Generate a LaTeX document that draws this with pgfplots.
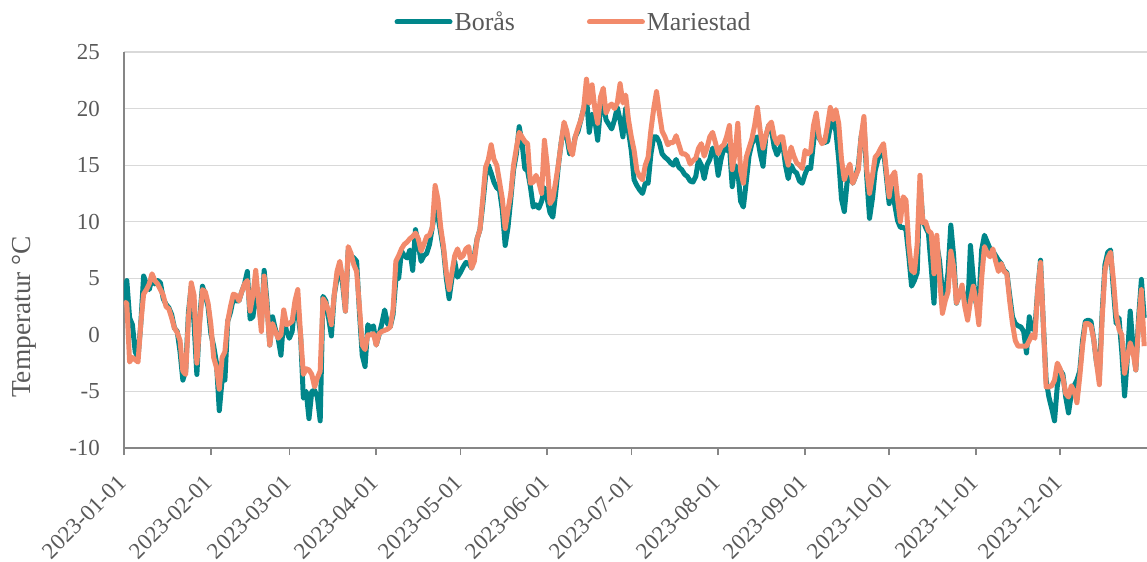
\documentclass[border=0pt]{standalone}
\usepackage{fontspec}
\setmainfont{Liberation Serif}
\usepackage{pgfplots}
\usepackage{pgfplotstable}
\pgfplotsset{compat=1.18}
\definecolor{boras}{HTML}{00868A}
\definecolor{mari}{HTML}{F28A6B}
\definecolor{txt}{HTML}{595959}
\definecolor{axc}{HTML}{868686}
\definecolor{gridc}{HTML}{D9D9D9}

\pgfplotstableread{
d b m
0 3.0 2.9
1 4.8 2.8
2 1.5 -2.4
3 0.9 -2.0
4 -1.5 -2.2
5 -2.0 -2.4
6 1.0 1.0
7 5.2 3.6
8 4.5 4.0
9 4.0 4.5
10 5.0 5.4
11 4.5 4.8
12 4.8 4.5
13 4.6 4.0
14 3.2 3.5
15 2.7 2.5
16 2.4 2.3
17 1.8 1.5
18 0.6 0.6
19 0.3 0.2
20 -1.5 -0.5
21 -4.0 -3.2
22 -3.2 -3.5
23 2.0 1.5
24 4.3 4.6
25 1.0 3.5
26 -3.5 -2.5
27 1.5 1.0
28 4.3 4.0
29 3.5 3.8
30 2.5 2.8
31 0.1 0.9
32 -1.0 -2.0
33 -2.5 -2.9
34 -6.7 -4.8
35 -4.0 -2.0
36 -4.0 -1.5
37 1.2 1.2
38 2.0 2.5
39 3.2 3.6
40 3.0 3.5
41 3.0 3.0
42 3.8 3.8
43 4.5 4.5
44 5.6 4.8
45 1.4 2.1
46 1.6 3.5
47 3.5 5.7
48 3.0 3.0
49 0.9 0.3
50 5.7 5.2
51 3.0 2.5
52 -0.9 -0.9
53 1.6 1.0
54 0.5 0.3
55 -0.3 -0.3
56 -1.8 0.0
57 1.5 2.2
58 0.3 0.9
59 -0.3 1.0
60 0.3 1.2
61 2.8 3.0
62 2.0 4.0
63 0.0 0.0
64 -5.6 -3.5
65 -5.0 -3.0
66 -7.4 -3.1
67 -5.0 -3.5
68 -4.9 -4.6
69 -5.5 -3.8
70 -7.6 -3.2
71 3.4 3.2
72 3.0 2.8
73 1.5 2.1
74 -0.1 0.9
75 3.5 3.5
76 5.0 5.6
77 6.0 6.5
78 4.5 5.0
79 2.1 2.1
80 7.5 7.8
81 7.0 7.2
82 6.8 6.2
83 6.5 5.6
84 2.0 2.5
85 -1.8 -0.9
86 -2.8 -1.3
87 0.9 0.0
88 0.5 0.0
89 0.8 0.1
90 -0.9 -0.9
91 0.0 0.1
92 1.0 0.3
93 2.2 0.4
94 1.0 0.5
95 0.7 0.7
96 1.8 2.2
97 4.9 6.5
98 5.0 7.0
99 7.4 7.6
100 7.0 8.0
101 6.8 8.2
102 7.5 8.5
103 5.7 8.7
104 9.3 9.0
105 8.0 8.5
106 6.5 7.4
107 7.0 8.0
108 7.2 8.7
109 8.0 8.8
110 9.5 9.5
111 11.0 13.2
112 10.5 12.0
113 9.0 9.5
114 7.5 7.8
115 5.0 5.5
116 3.2 4.0
117 5.0 5.5
118 6.5 7.0
119 5.1 7.6
120 5.5 6.8
121 6.0 7.0
122 6.4 7.6
123 6.3 7.8
124 5.9 5.9
125 7.0 6.5
126 8.5 8.5
127 9.3 9.3
128 11.5 12.0
129 14.0 14.8
130 15.0 15.5
131 14.3 16.8
132 13.5 15.5
133 13.0 15.0
134 12.8 13.5
135 11.0 12.0
136 7.9 9.4
137 9.5 11.0
138 12.0 12.5
139 14.6 15.0
140 16.0 16.5
141 18.4 17.9
142 17.0 17.5
143 14.7 17.1
144 14.5 16.9
145 13.1 13.4
146 11.3 13.5
147 11.5 14.1
148 11.2 13.5
149 11.8 12.5
150 13.0 17.2
151 12.0 15.0
152 10.8 11.6
153 10.4 12.0
154 12.5 13.5
155 15.0 15.1
156 17.0 17.0
157 18.5 18.8
158 17.5 18.0
159 16.0 16.5
160 16.2 15.9
161 17.5 17.5
162 18.0 18.3
163 19.0 19.0
164 20.0 20.0
165 21.0 22.6
166 17.9 20.5
167 19.5 22.1
168 19.0 20.0
169 17.2 18.7
170 20.0 21.0
171 20.5 21.8
172 19.0 19.6
173 18.6 20.2
174 18.2 20.4
175 19.0 20.0
176 20.1 20.5
177 19.0 22.2
178 17.5 20.5
179 20.0 21.2
180 18.0 19.0
181 16.3 17.5
182 13.7 16.3
183 13.2 14.5
184 12.8 14.0
185 12.5 13.7
186 13.4 15.0
187 13.4 15.7
188 16.0 18.1
189 17.5 20.0
190 17.5 21.5
191 17.0 19.6
192 16.0 18.0
193 15.7 17.5
194 15.5 16.8
195 15.2 17.0
196 15.0 17.0
197 15.5 17.6
198 14.8 16.8
199 14.6 16.0
200 14.2 16.0
201 14.0 15.8
202 13.6 15.1
203 13.5 15.4
204 14.0 15.6
205 15.5 16.5
206 15.0 16.9
207 13.8 15.8
208 15.0 16.5
209 15.5 17.5
210 16.5 17.9
211 16.0 17.0
212 14.1 16.0
213 15.5 16.6
214 16.5 16.8
215 16.3 17.5
216 16.8 18.5
217 13.1 14.6
218 15.0 16.0
219 14.5 18.7
220 11.8 14.5
221 11.3 13.4
222 13.5 15.7
223 15.8 16.5
224 16.9 17.3
225 17.3 18.5
226 17.5 20.1
227 16.0 18.0
228 14.9 16.5
229 17.5 17.6
230 18.5 18.5
231 18.1 18.8
232 16.6 17.5
233 15.9 16.9
234 16.5 17.5
235 17.0 17.5
236 15.0 16.0
237 13.8 15.0
238 15.0 16.6
239 14.5 15.8
240 14.3 15.2
241 13.6 15.0
242 13.4 14.7
243 14.2 16.3
244 14.8 16.0
245 14.7 16.2
246 17.0 18.5
247 19.2 19.6
248 17.4 17.5
249 17.0 16.9
250 17.0 17.1
251 17.1 18.5
252 18.4 20.1
253 19.0 19.0
254 18.0 19.9
255 15.5 18.7
256 12.0 15.5
257 10.9 13.7
258 13.5 14.5
259 14.5 15.1
260 13.4 13.4
261 14.0 14.0
262 14.9 14.6
263 17.5 17.5
264 18.7 19.3
265 14.0 14.6
266 10.3 12.5
267 12.0 14.0
268 14.5 15.7
269 15.5 16.0
270 16.0 16.5
271 16.3 16.9
272 14.0 14.5
273 11.6 12.2
274 13.0 14.0
275 11.5 14.4
276 10.1 12.0
277 9.5 10.0
278 9.5 12.2
279 9.3 11.9
280 7.0 8.0
281 4.3 5.7
282 4.8 5.5
283 5.5 8.0
284 13.5 14.1
285 10.1 9.9
286 9.5 10.0
287 9.0 9.2
288 6.0 9.0
289 2.8 5.4
290 8.0 8.8
291 6.5 5.0
292 3.7 1.9
293 3.6 3.0
294 5.5 3.8
295 9.7 7.4
296 7.0 6.0
297 2.8 2.8
298 3.5 3.5
299 4.2 4.4
300 3.0 2.5
301 2.0 1.3
302 7.9 3.0
303 5.0 4.3
304 2.8 3.0
305 2.8 0.9
306 7.5 5.0
307 8.8 7.8
308 8.2 7.2
309 7.6 6.9
310 7.4 7.6
311 7.0 6.5
312 6.6 5.6
313 6.3 6.3
314 5.7 5.6
315 5.5 5.4
316 3.5 3.0
317 1.6 1.0
318 1.0 -0.5
319 0.8 -1.0
320 0.7 -1.0
321 0.3 -1.0
322 -1.6 -1.0
323 1.6 -0.5
324 0.5 0.0
325 0.5 -0.3
326 4.0 4.0
327 6.6 6.4
328 1.0 1.0
329 -4.0 -4.6
330 -5.5 -4.6
331 -6.5 -4.5
332 -7.6 -4.0
333 -4.5 -2.5
334 -3.1 -3.0
335 -3.5 -3.8
336 -5.5 -5.2
337 -6.9 -5.5
338 -5.2 -4.5
339 -4.5 -5.0
340 -4.0 -6.0
341 -3.2 -3.7
342 -0.5 -1.0
343 1.2 1.0
344 1.3 1.0
345 1.2 0.8
346 -0.4 -0.4
347 -2.5 -2.5
348 -3.5 -4.4
349 2.0 1.5
350 6.2 5.7
351 7.3 6.8
352 7.5 7.3
353 4.0 4.9
354 1.0 1.8
355 1.5 0.5
356 -1.5 0.0
357 -5.4 -3.4
358 -2.0 -2.0
359 2.1 -0.7
360 -1.0 -1.5
361 -3.1 -3.1
362 1.5 1.0
363 4.9 4.0
364 1.5 -1.0
}\data

\begin{document}
\begin{tikzpicture}
\begin{axis}[name=ax, scale only axis, width=1023bp, height=396bp,
  xmin=0, xmax=365, ymin=-10, ymax=25,
  axis x line*=bottom, axis y line*=left,
  axis line style={-, axc, line width=1.5bp},
  xtick={0,31,59,90,120,151,181,212,243,273,304,334},
  xticklabels={2023-01-01,2023-02-01,2023-03-01,2023-04-01,2023-05-01,2023-06-01,2023-07-01,2023-08-01,2023-09-01,2023-10-01,2023-11-01,2023-12-01},
  ytick={-10,-5,...,25},
  yticklabels={-10,-5,0,5,10,15,20,25},
  tick align=outside, major tick length=7bp,
  xtick style={axc, line width=1.5bp},
  ytick style={draw=none},
  ymajorgrids, grid style={gridc, line width=1.2bp},
  ticklabel style={font=\fontsize{23}{27}\selectfont, text=txt},
  xticklabel style={yshift=-24bp, xshift=-2bp, rotate=45, anchor=east, inner sep=0pt},
  yticklabel style={anchor=east, inner sep=0pt, xshift=-17bp},
  ylabel={Temperatur °C},
  ylabel style={at={(axis description cs:-0.0978,0.331)}, anchor=center, font=\fontsize{27.5}{31}\selectfont, text=txt},
  legend style={at={(0.4394,1.0758)}, anchor=center, draw=none, fill=none,
    font=\fontsize{26}{30}\selectfont, text=txt, inner sep=0pt,
    /tikz/every even column/.append style={column sep=70bp}},
  legend columns=2,
  legend image code/.code={\draw[#1, line width=5bp, line cap=round] (0bp,0bp) -- (53bp,0bp);},
]
\addplot[boras, line width=5bp, line join=round] table[x=d, y=b] {\data};
\addlegendentry{Borås}
\addplot[mari, line width=5bp, line join=round] table[x=d, y=m] {\data};
\addlegendentry{Mariestad}
\end{axis}
\pgfresetboundingbox
\path[use as bounding box] (ax.south west) ++(-124bp,-114bp) rectangle ++(1147bp,562bp);
\end{tikzpicture}
\end{document}
